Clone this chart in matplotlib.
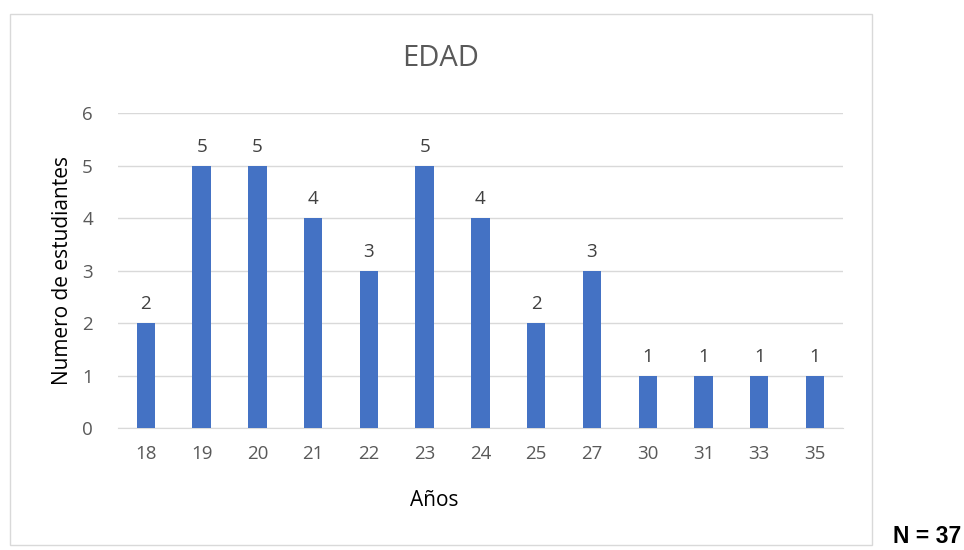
import numpy as np
import matplotlib.pyplot as plt
from matplotlib.patches import Rectangle

edades = ['18', '19', '20', '21', '22', '23', '24', '25', '27', '30', '31', '33', '35']
estudiantes = [2, 5, 5, 4, 3, 5, 4, 2, 3, 1, 1, 1, 1]
n_total = 37

plt.rcParams['font.family'] = ['Open Sans', 'DejaVu Sans']

fig = plt.figure(figsize=(9.64, 5.5), dpi=100)
ax = fig.add_axes([0.1224, 0.2218, 0.752, 0.5727])

x = np.arange(len(edades))
ax.bar(x, estudiantes, width=0.33, color='#4472C4', zorder=3)
for i, v in enumerate(estudiantes):
    ax.annotate(str(v), (x[i], v), xytext=(0, 7), textcoords='offset points',
                ha='center', va='bottom', fontsize=13.5, color='#404040')

ax.set_xlim(-0.5, len(edades) - 0.5)
ax.set_ylim(0, 6)
ax.set_yticks(range(0, 7))
ax.set_xticks(x)
ax.set_xticklabels(edades)
ax.tick_params(axis='x', length=0, labelsize=13.5, labelcolor='#595959', pad=12)
ax.tick_params(axis='y', length=0, labelsize=13.5, labelcolor='#595959', pad=18)
ax.grid(axis='y', color='#d9d9d9', linewidth=1, zorder=0)
for s in ['top', 'right', 'left']:
    ax.spines[s].set_visible(False)
ax.spines['bottom'].set_color('#d9d9d9')

fig.text(441 / 964, 1 - 58 / 550, 'EDAD', ha='center', va='center',
         fontsize=21, color='#595959')
fig.text(434 / 964, 1 - 500 / 550, 'Años', ha='center', va='center',
         fontsize=15, color='black')
fig.text(63 / 964, 1 - 270 / 550, 'Numero de estudiantes', ha='center',
         va='center', rotation=90, fontsize=15, color='black')

fig.patches.append(Rectangle((10 / 964, 1 - 545 / 550), 862 / 964, 531 / 550,
                             transform=fig.transFigure, fill=False,
                             edgecolor='#d9d9d9', linewidth=1))
fig.text(0.997, 0.003, f'N = {n_total}', ha='right', va='bottom', fontsize=16.5,
         fontweight='bold', family=['Liberation Sans', 'DejaVu Sans'])

fig.savefig('out.png', dpi=100)
